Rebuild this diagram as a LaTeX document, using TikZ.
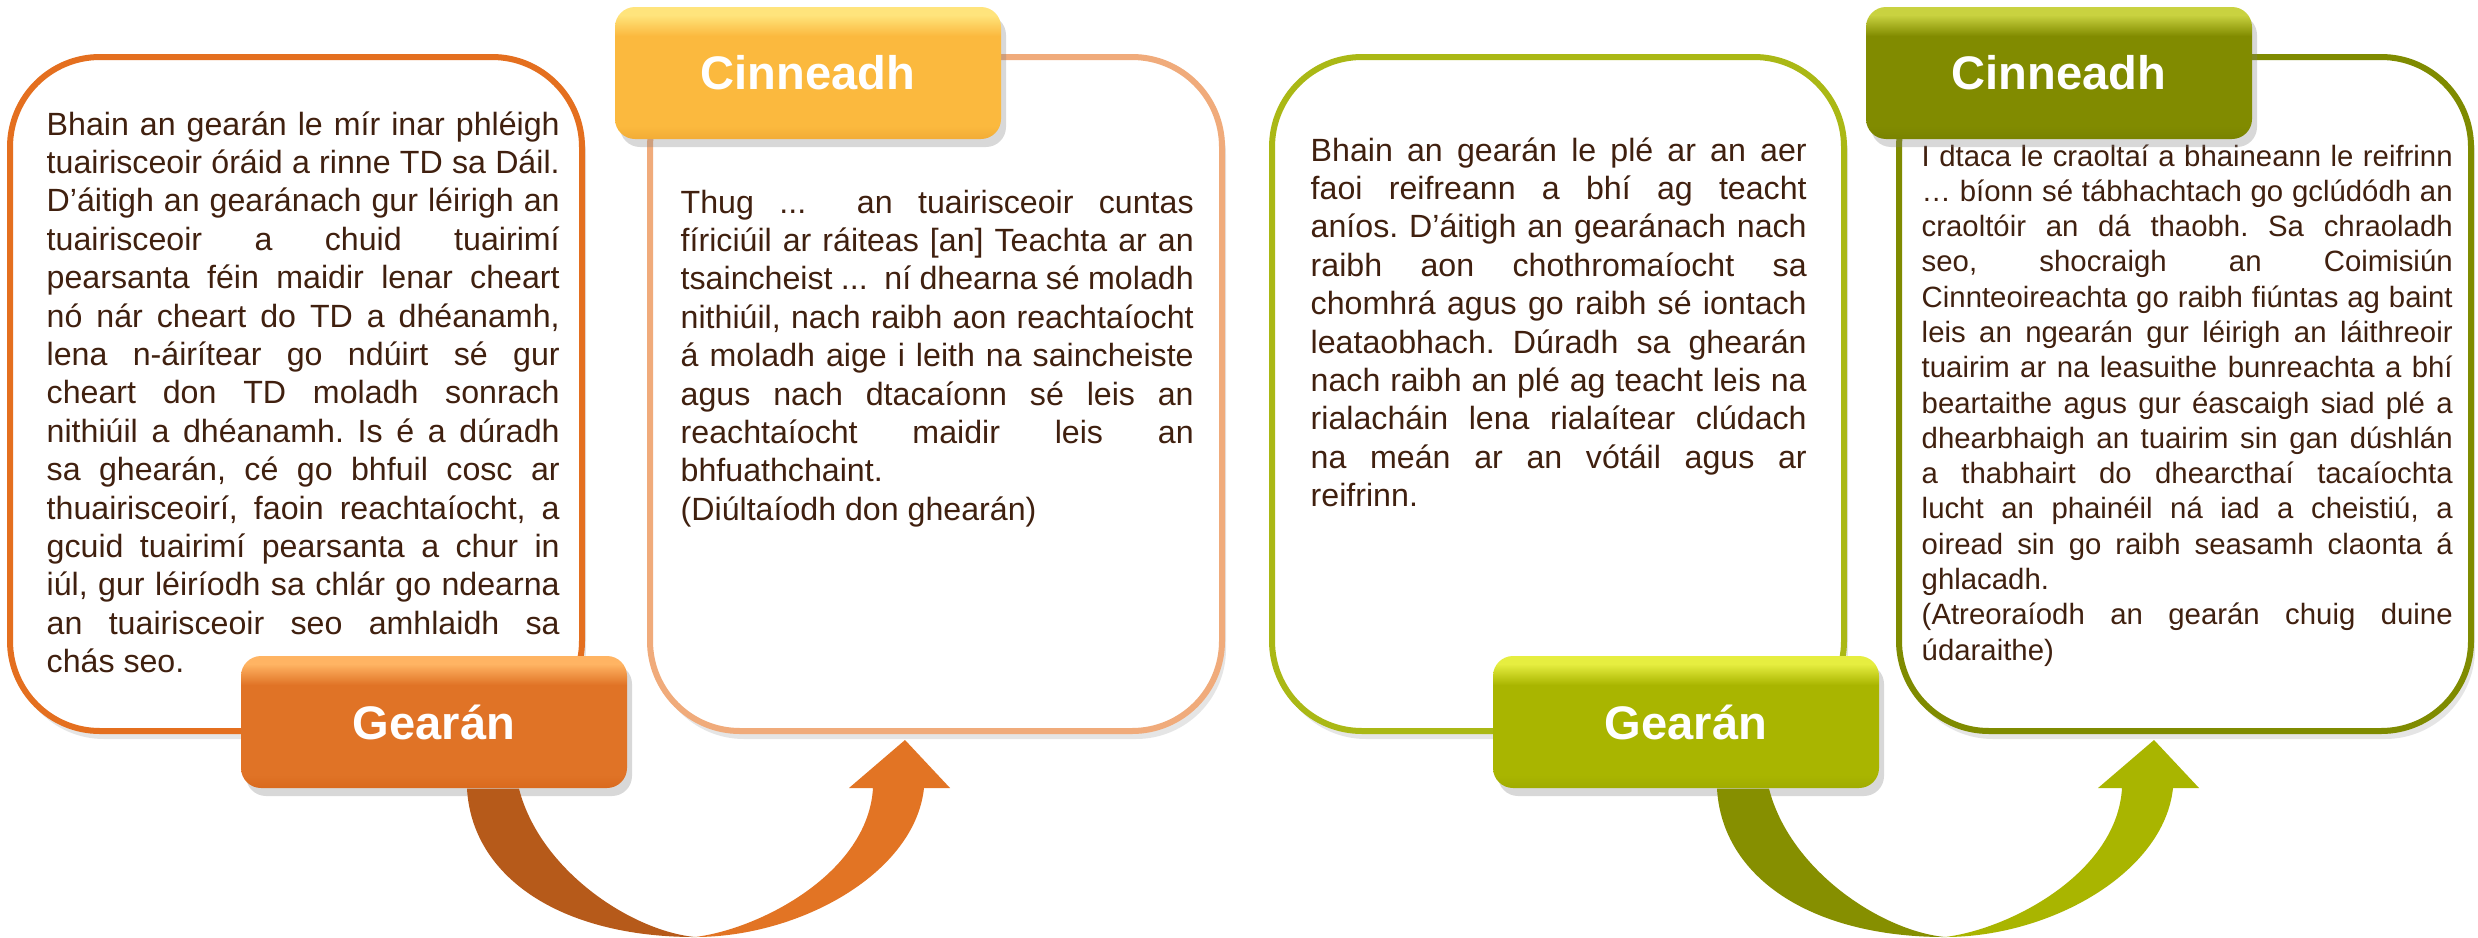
\documentclass[tikz,border=0pt]{standalone}
\usepackage{fontspec}
\setmainfont{Liberation Sans}
\usepackage{xcolor}
\usetikzlibrary{calc, positioning, shadows}

\tolerance=10000
\hbadness=10000
\hyphenpenalty=10000
\frenchspacing

\definecolor{inkBrown}{HTML}{40200F}
\definecolor{orangeLine}{HTML}{E46F1F}
\definecolor{peachLine}{HTML}{F0AB7B}
\definecolor{limeLine}{HTML}{AAB815}
\definecolor{oliveLine}{HTML}{7F8B00}
\definecolor{gearanOrange}{HTML}{E07326}
\definecolor{gearanOrangeTop}{HTML}{FFB463}
\definecolor{gearanOrangeLow}{HTML}{D96A1E}
\definecolor{cinneadhGold}{HTML}{FBB93E}
\definecolor{cinneadhGoldTop}{HTML}{FFE47C}
\definecolor{cinneadhGoldLow}{HTML}{F2AC36}
\definecolor{gearanLime}{HTML}{A9B500}
\definecolor{gearanLimeTop}{HTML}{E6EE40}
\definecolor{gearanLimeLow}{HTML}{A0AC00}
\definecolor{cinneadhOlive}{HTML}{818B00}
\definecolor{cinneadhOliveTop}{HTML}{C9D240}
\definecolor{cinneadhOliveLow}{HTML}{798300}
\definecolor{turnOrangeDark}{HTML}{B65A1A}
\definecolor{turnOrangeLight}{HTML}{E27424}
\definecolor{turnOliveDark}{HTML}{868F00}
\definecolor{turnOliveLight}{HTML}{A9B500}

% bevel shading: name, top, main, low
\newcommand{\bevelshade}[4]{%
    \pgfdeclareverticalshading{#1}{100bp}{color(0bp)=(#4); color(25bp)=(#4); color(30bp)=(#3); color(64bp)=(#3); color(72bp)=(#2); color(100bp)=(#2)}}
\bevelshade{bevelGearanA}{gearanOrangeTop}{gearanOrange}{gearanOrangeLow}
\bevelshade{bevelCinneadhA}{cinneadhGoldTop}{cinneadhGold}{cinneadhGoldLow}
\bevelshade{bevelGearanB}{gearanLimeTop}{gearanLime}{gearanLimeLow}
\bevelshade{bevelCinneadhB}{cinneadhOliveTop}{cinneadhOlive}{cinneadhOliveLow}

\tikzset{
    panel/.style={rectangle, rounded corners=9mm, line width=0.6mm, fill=white, inner sep=0pt, minimum width=57.2mm, minimum height=67.4mm, drop shadow={opacity=0.2, shadow xshift=0.4mm, shadow yshift=-0.8mm}},
    tag/.style={rectangle, rounded corners=2mm, shade, inner sep=0pt, minimum width=38.6mm, minimum height=13.2mm, text=white, font=\fontsize{13.4}{16}\selectfont\bfseries, drop shadow={opacity=0.3, shadow xshift=0.5mm, shadow yshift=-0.8mm}},
    bodytext/.style={anchor=base west, inner sep=0pt, align=justify, text=inkBrown, font=\fontsize{9.15}{10.93}\selectfont},
    smalltext/.style={bodytext, font=\fontsize{8.35}{10.04}\selectfont}
}

\begin{document}
\begin{tikzpicture}[x=0.1mm, y=-0.1mm]
    \path[use as bounding box, fill=white] (0,0) rectangle (2478,937);

    % Panels
    \node[panel, draw=orangeLine] (boxA) at (296,394) {};
    \node[panel, draw=peachLine] (boxB) at (936,394) {};
    \node[panel, draw=limeLine] (boxC) at (1558,394) {};
    \node[panel, draw=oliveLine] (boxD) at (2185,394) {};

    % Texts
    \node[bodytext, text width=51.3mm] (txtA) at (46,135) {Bhain an gearán le mír inar phléigh \linebreak
        tuairisceoir óráid a rinne TD sa Dáil. \linebreak
        D’áitigh an gearánach gur léirigh an \linebreak
        tuairisceoir a chuid tuairimí \linebreak
        pearsanta féin maidir lenar cheart \linebreak
        nó nár cheart do TD a dhéanamh, \linebreak
        lena n-áirítear go ndúirt sé gur \linebreak
        cheart don TD moladh sonrach \linebreak
        nithiúil a dhéanamh. Is é a dúradh \linebreak
        sa ghearán, cé go bhfuil cosc ar \linebreak
        thuairisceoirí, faoin reachtaíocht, a \linebreak
        gcuid tuairimí pearsanta a chur in \linebreak
        iúl, gur léiríodh sa chlár go ndearna \linebreak
        an tuairisceoir seo amhlaidh sa \linebreak
        chás seo.};
    \node[bodytext, text width=51.3mm] (txtB) at (680,213) {Thug ...\ \ an tuairisceoir cuntas \linebreak
        fíriciúil ar ráiteas [an] Teachta ar an \linebreak
        tsaincheist ...\ \ ní dhearna sé moladh \linebreak
        nithiúil, nach raibh aon reachtaíocht \linebreak
        á moladh aige i leith na saincheiste \linebreak
        agus nach dtacaíonn sé leis an \linebreak
        reachtaíocht maidir leis an \linebreak
        bhfuathchaint.\\
        (Diúltaíodh don ghearán)};
    \node[bodytext, text width=49.6mm] (txtC) at (1310,161) {Bhain an gearán le plé ar an aer \linebreak
        faoi reifreann a bhí ag teacht \linebreak
        aníos. D’áitigh an gearánach nach \linebreak
        raibh aon chothromaíocht sa \linebreak
        chomhrá agus go raibh sé iontach \linebreak
        leataobhach. Dúradh sa ghearán \linebreak
        nach raibh an plé ag teacht leis na \linebreak
        rialacháin lena rialaítear clúdach \linebreak
        na meán ar an vótáil agus ar \linebreak
        reifrinn.};
    \node[smalltext, text width=53.1mm] (txtD) at (1921,166) {I dtaca le craoltaí a bhaineann le reifrinn \linebreak
        … bíonn sé tábhachtach go gclúdódh an \linebreak
        craoltóir an dá thaobh. Sa chraoladh \linebreak
        seo, shocraigh an Coimisiún \linebreak
        Cinnteoireachta go raibh fiúntas ag baint \linebreak
        leis an ngearán gur léirigh an láithreoir \linebreak
        tuairim ar na leasuithe bunreachta a bhí \linebreak
        beartaithe agus gur éascaigh siad plé a \linebreak
        dhearbhaigh an tuairim sin gan dúshlán \linebreak
        a thabhairt do dhearcthaí tacaíochta \linebreak
        lucht an phainéil ná iad a cheistiú, a \linebreak
        oiread sin go raibh seasamh claonta á \linebreak
        ghlacadh.\\
        (Atreoraíodh an gearán chuig duine \linebreak
        údaraithe)};

    % Labels
    \node[tag, shading=bevelGearanA] (gearanA) at (434,722) {Gearán};
    \node[tag, shading=bevelCinneadhA] (cinneadhA) at (808,73) {Cinneadh};
    \node[tag, shading=bevelGearanB] (gearanB) at (1686,722) {Gearán};
    \node[tag, shading=bevelCinneadhB] (cinneadhB) at (2059,73) {Cinneadh};

    % Turn arrows
    \coordinate (bendA) at (695,937);
    \coordinate (tipA) at ($(boxB.south)+(-31,6)$);
    \fill[turnOrangeDark] ($(gearanA.south)+(33,0)$) .. controls +(5,88) and +(-135,0) .. (bendA)
        .. controls +(-63,-6) and +(21,82) .. ($(gearanA.south)+(85,0)$) -- cycle;
    \fill[turnOrangeLight] (bendA) .. controls +(105,0) and +(-9,85) .. ($(tipA)+(19,48)$)
        -- ($(tipA)+(45,48)$) -- (tipA) -- ($(tipA)+(-56,48)$) -- ($(tipA)+(-32,48)$)
        .. controls +(-5,85) and +(65,-8) .. (bendA) -- cycle;

    \coordinate (bendB) at (1945,937);
    \coordinate (tipB) at ($(boxD.south)+(-31,6)$);
    \fill[turnOliveDark] ($(gearanB.south)+(31,0)$) .. controls +(5,88) and +(-135,0) .. (bendB)
        .. controls +(-63,-6) and +(21,82) .. ($(gearanB.south)+(83,0)$) -- cycle;
    \fill[turnOliveLight] (bendB) .. controls +(105,0) and +(-9,85) .. ($(tipB)+(19,48)$)
        -- ($(tipB)+(45,48)$) -- (tipB) -- ($(tipB)+(-56,48)$) -- ($(tipB)+(-32,48)$)
        .. controls +(-5,85) and +(65,-8) .. (bendB) -- cycle;

\end{tikzpicture}
\end{document}
